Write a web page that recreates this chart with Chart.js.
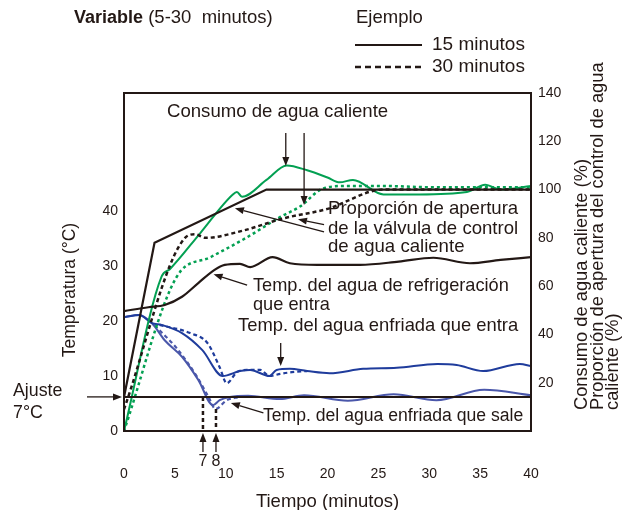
<!DOCTYPE html>
<html>
<head>
<meta charset="utf-8">
<script src="https://cdn.jsdelivr.net/npm/chart.js@4"></script>
<style>
html, body { margin: 0; padding: 0; background: #fff; }
</style>
</head>
<body>
<canvas id="chart" width="630" height="510"></canvas>
<script>
const ink = '#231815'
const green = '#03a052'
const blue_in = '#1f3c9c'
const blue_out = '#4a57aa'
const family = "'Liberation Sans', Arial, sans-serif"

// ticks
const minutes_ticks = [0, 5, 10, 15, 20, 25, 30, 35, 40]
const temp_ticks = [0, 10, 20, 30, 40]
const pct_ticks = [20, 40, 60, 80, 100, 120, 140]

// valvula de agua caliente (%), eje derecho
const valve_15_x = [0, 3, 14, 40]
const valve_15_y = [14, 78, 100, 100]
const valve_30_x = [0, 6, 7, 8, 11.7, 15.6, 20, 25.5, 40]
const valve_30_y = [9, 80, 81.5, 80, 83, 88, 92, 100, 100]

// consumo de agua caliente (%), eje derecho
const hot_15_x = [0, 3.7, 4.5, 7.5, 10.7, 11.1, 11.6, 14, 16, 18, 20, 21.2, 22.5, 25.5, 29, 33.7, 35.5, 37, 40]
const hot_15_y = [0, 64, 67, 82, 98, 99, 97, 104, 110, 108, 105, 103, 104, 98, 98, 99, 102, 100, 101.5]
const hot_30_x = [0, 5.2, 8.5, 12, 15.3, 17.3, 19.6, 22, 25.5, 30, 35, 40]
const hot_30_y = [0, 64, 72, 80, 88.5, 93, 100.5, 101.5, 101.5, 101, 101, 101]

// temperaturas (°C), eje izquierdo
const cool_x = [0, 2.4, 4, 5.7, 7.3, 8.9, 9.9, 11.4, 12.4, 14.6, 16.3, 19, 23.2, 27, 30.4, 34, 37, 40]
const cool_y = [21.8, 22.5, 22.9, 24.4, 26.9, 29.3, 30.2, 30.4, 29.8, 31.6, 30.5, 30.2, 30.2, 30.8, 31.5, 30.5, 31.1, 31.6]

const chilled_in_15_x = [0, 1.5, 2.75, 3.7, 5.7, 7.7, 9.7, 11.4, 12.4, 14.3, 15, 16.3, 18, 20.2, 23.5, 26.8, 30.8, 32.7, 35.3, 38.9, 40]
const chilled_in_15_y = [20.7, 21.1, 19.6, 19.3, 17.8, 14.7, 10, 10.9, 11.1, 10, 11.1, 11.3, 10.9, 10.5, 11.3, 11.5, 12.2, 12.0, 10.9, 12.2, 11.8]
const chilled_in_30_x = [3.5, 6.5, 8.2, 9.4, 10.1, 11.1, 12.1, 13.4, 14.3, 15.4, 16.5, 18]
const chilled_in_30_y = [19.3, 17.8, 16, 11.6, 8.7, 10.7, 11.1, 11.1, 10.0, 10.4, 10.7, 10.9]

const chilled_out_15_x = [0, 1.5, 2.75, 4, 5.7, 7.3, 8.75, 9.4, 10.4, 12.2, 15.3, 17.7, 22, 26.5, 30.7, 35.4, 40]
const chilled_out_15_y = [20.7, 21.1, 19.6, 16.5, 13.5, 9.3, 4.7, 5.6, 6.2, 6.4, 5.8, 6.5, 5.5, 6.7, 5.6, 7.5, 6.5]
const chilled_out_30_x = [3.0, 5.2, 7.2, 8.3, 9.0, 10.1, 11.4]
const chilled_out_30_y = [19.2, 15, 9.8, 6.2, 4.0, 5.6, 6.2]

const setpoint = 6.2
const mark_7 = 7.76
const mark_8 = 9.04


function pts(xs, ys) {
    return xs.map((x, i) => ({ x: x, y: ys[i] }))
}

function line(label, xs, ys, axis, color, width, dash, smooth) {
    return {
        label: label,
        data: pts(xs, ys),
        yAxisID: axis,
        borderColor: color,
        borderWidth: width,
        borderDash: dash || [],
        pointRadius: 0,
        fill: false,
        cubicInterpolationMode: smooth ? 'monotone' : 'default',
        tension: 0,
    }
}

function arrow(c, x1, y1, x2, y2) {
    let ang = Math.atan2(y2 - y1, x2 - x1)
    let L = 9, W = 3.5
    let bx = x2 - L * Math.cos(ang), by = y2 - L * Math.sin(ang)
    c.beginPath(); c.moveTo(x1, y1); c.lineTo(bx, by); c.stroke()
    c.beginPath(); c.moveTo(x2, y2)
    c.lineTo(bx + W * Math.sin(ang), by - W * Math.cos(ang))
    c.lineTo(bx - W * Math.sin(ang), by + W * Math.cos(ang))
    c.closePath(); c.fill()
}

const extras = {
    id: 'extras',
    afterDraw(chart) {
        const c = chart.ctx
        const a = chart.chartArea
        const X = v => chart.scales.x.getPixelForValue(v)
        const Y = v => chart.scales.yT.getPixelForValue(v)
        c.save()
        c.fillStyle = ink
        c.strokeStyle = ink

        // marco
        c.lineWidth = 2
        c.strokeRect(a.left, a.top, a.right - a.left, a.bottom - a.top)

        function txt(s, x, y, size, bold) {
            c.font = (bold ? 'bold ' : '') + size + 'px ' + family
            c.fillText(s, x, y)
            return c.measureText(s).width
        }
        c.textBaseline = 'middle'
        c.textAlign = 'left'

        // cabecera y leyenda
        let w = txt('Variable', 74, 18, 18, true)
        txt(' (5-30  minutos)', 74 + w, 18, 18.5)
        txt('Ejemplo', 356, 18, 18.5)
        c.lineWidth = 2
        c.beginPath(); c.moveTo(355, 45); c.lineTo(422, 45); c.stroke()
        c.setLineDash([6, 4]); c.lineWidth = 2.5
        c.beginPath(); c.moveTo(355, 67); c.lineTo(422, 67); c.stroke()
        c.setLineDash([])
        txt('15 minutos', 432, 45, 19)
        txt('30 minutos', 432, 67, 19)

        // anotaciones
        txt('Consumo de agua caliente', 167, 112, 18.6)
        txt('Proporción de apertura', 328, 209, 18.6)
        txt('de la válvula de control', 328, 229, 18.6)
        txt('de agua caliente', 328, 247, 18.6)
        txt('Temp. del agua de refrigeración', 253, 286, 18.2)
        txt('que entra', 253, 305, 18.2)
        txt('Temp. del agua enfriada que entra', 238, 326, 18.4)
        txt('Temp. del agua enfriada que sale', 263, 416, 17.6)
        txt('Ajuste', 13, 391, 17.8)
        txt('7°C', 13, 413, 17.8)

        c.lineWidth = 1.3
        arrow(c, X(15.9), Y(54.2), X(15.9), Y(48.2))
        arrow(c, X(17.7), Y(54.2), X(17.7), Y(41.1))
        arrow(c, X(19.66), Y(36.2), X(10.9), Y(40.5))
        arrow(c, X(19.66), Y(37.5), X(17.1), Y(38.5))
        arrow(c, X(12.1), Y(26.5), X(8.8), Y(28.5))
        arrow(c, X(15.4), Y(16.0), X(15.4), Y(11.8))
        arrow(c, X(13.7), Y(3.3), X(10.5), Y(5.1))
        arrow(c, a.left - 37, Y(setpoint), a.left - 2, Y(setpoint))
        arrow(c, X(mark_7), a.bottom + 21, X(mark_7), a.bottom + 2)
        arrow(c, X(mark_8), a.bottom + 21, X(mark_8), a.bottom + 2)

        c.textAlign = 'center'
        txt('7', X(mark_7), 462, 16)
        txt('8', X(mark_8), 462, 16)
        txt('Tiempo (minutos)', (a.left + a.right) / 2, 502, 18.5)

        // titulos de ejes
        c.save()
        c.translate(70, 290); c.rotate(-Math.PI / 2)
        txt('Temperatura (°C)', 0, 0, 17.5)
        c.restore()

        const right_title = ['Consumo de agua caliente (%)', 'Proporción de apertura del control de agua', 'caliente (%)']
        c.textAlign = 'left'
        right_title.forEach((s, i) => {
            c.save()
            c.translate(582 + i * 15.5, 410); c.rotate(-Math.PI / 2)
            txt(s, 0, 0, 18.3)
            c.restore()
        })
        c.restore()
    }
}

let datasets = [
    line('Ajuste', [0, 40], [setpoint, setpoint], 'yT', ink, 2),
    line('7', [mark_7, mark_7], [setpoint, 0], 'yT', ink, 2.5, [4, 3]),
    line('8', [mark_8, mark_8], [4.0, 0], 'yT', ink, 2.5, [4, 3]),
    line('Refrigeración', cool_x, cool_y, 'yT', ink, 2.2, null, true),
    line('Válvula 15', valve_15_x, valve_15_y, 'yP', ink, 2.2),
    line('Válvula 30', valve_30_x, valve_30_y, 'yP', ink, 2.5, [4, 3], true),
    line('Consumo 15', hot_15_x, hot_15_y, 'yP', green, 2, null, true),
    line('Consumo 30', hot_30_x, hot_30_y, 'yP', green, 2.5, [3, 3], true),
    line('Entra 30', chilled_in_30_x, chilled_in_30_y, 'yT', blue_in, 2.2, [4, 3], true),
    line('Sale 30', chilled_out_30_x, chilled_out_30_y, 'yT', blue_out, 2.2, [4, 3], true),
    line('Entra 15', chilled_in_15_x, chilled_in_15_y, 'yT', blue_in, 2, null, true),
    line('Sale 15', chilled_out_15_x, chilled_out_15_y, 'yT', blue_out, 2, null, true),
]

Chart.defaults.font.family = family
Chart.defaults.color = ink

let my_chart = new Chart(document.getElementById('chart'), {
    type: 'line',
    data: { datasets: datasets },
    options: {
        responsive: false,
        animation: false,
        layout: { padding: { top: 93, left: 0, right: 0, bottom: 0 } },
        plugins: { legend: { display: false }, tooltip: { enabled: false } },
        scales: {
            x: {
                type: 'linear', position: 'bottom', min: 0, max: 40,
                afterFit: s => { s.height = 79 },
                afterBuildTicks: s => { s.ticks = minutes_ticks.map(v => ({ value: v })) },
                grid: { display: false, drawTicks: false },
                border: { display: false },
                ticks: { padding: 35, font: { size: 14 }, maxRotation: 0, autoSkip: false, color: ink },
            },
            yT: {
                type: 'linear', position: 'left', min: 0, max: 61.45,
                afterFit: s => { s.width = 124 },
                afterBuildTicks: s => { s.ticks = temp_ticks.map(v => ({ value: v })) },
                grid: { display: false, drawTicks: false },
                border: { display: false },
                ticks: { padding: 6, font: { size: 14 }, color: ink },
            },
            yP: {
                type: 'linear', position: 'right', min: 0, max: 140,
                afterFit: s => { s.width = 99 },
                afterBuildTicks: s => { s.ticks = pct_ticks.map(v => ({ value: v })) },
                grid: { display: false, drawTicks: false },
                border: { display: false },
                ticks: { padding: 7, font: { size: 14 }, color: ink },
            },
        },
    },
    plugins: [extras],
})
</script>
</body>
</html>
